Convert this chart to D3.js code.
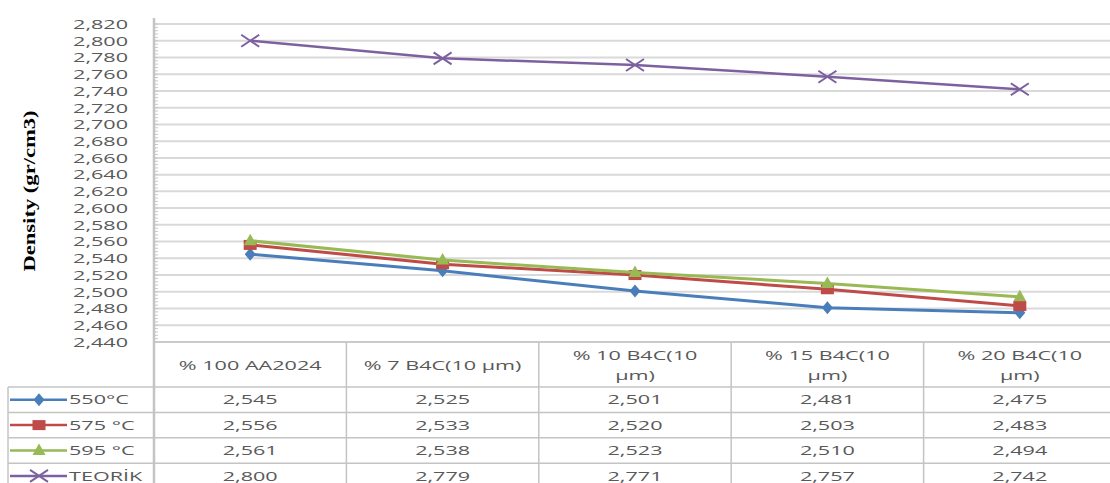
<!DOCTYPE html>
<html>
<head>
<meta charset="utf-8">
<script src="https://cdn.jsdelivr.net/npm/d3@7"></script>
<style>
  body { margin: 0; background: #fff; }
  svg { display: block; }
</style>
</head>
<body>
<svg id="chart" width="1110" height="483"></svg>
<script>
// ---- data ----
const categories = ["% 100 AA2024", "% 7 B4C(10 µm)", "% 10 B4C(10 µm)", "% 15 B4C(10 µm)", "% 20 B4C(10 µm)"];
const seriesNames = ["550°C", "575 °C", "595 °C", "TEORİK"];
const s550 = [2.545, 2.525, 2.501, 2.481, 2.475];
const s575 = [2.556, 2.533, 2.520, 2.503, 2.483];
const s595 = [2.561, 2.538, 2.523, 2.510, 2.494];
const teorik = [2.800, 2.779, 2.771, 2.757, 2.742];
const yTickValues = [2.44, 2.46, 2.48, 2.50, 2.52, 2.54, 2.56, 2.58, 2.60, 2.62, 2.64,
                     2.66, 2.68, 2.70, 2.72, 2.74, 2.76, 2.78, 2.80, 2.82];
const yTitle = "Density (gr/cm3)";

// ---- styling ----
const SX = 1.6;           // horizontal text stretch
const FONT = "'Open Sans', 'DejaVu Sans', sans-serif";
const TXT = "#595959";
const GRID = "#d9d9d9";
const BORDER = "#c4c4c4";
const colors = ["#4a7ebb", "#be4b48", "#98b954", "#7d60a0"];
const markerKinds = ["diamond", "square", "triangle", "cross"];

const svg = d3.select("#chart");
const plotLeft = 154, plotRight = 1116, plotTop = 24, plotBottom = 342;
const headerBottom = 387, rowH = 25.4, tableLeft = 8, tableRight = 1110;

const x = d3.scaleBand().domain(categories).range([plotLeft, plotRight]);
const y = d3.scaleLinear().domain([2.44, 2.82]).range([plotBottom, plotTop]);
const locale = d3.formatLocale({ decimal: ",", thousands: ".", grouping: [3], currency: ["", ""] });
const fmt = locale.format(".3f");

const series = [s550, s575, s595, teorik].map((vals, i) => ({
  name: seriesNames[i], values: vals, color: colors[i], kind: markerKinds[i]
}));

// stretched text helper
function label(g, px, py, str, opts = {}) {
  const t = g.append("g").attr("transform", `translate(${px},${py})`)
    .append("text")
    .attr("transform", `scale(${opts.sx || SX},1)`)
    .attr("text-anchor", opts.anchor || "middle")
    .attr("dy", "0.35em")
    .attr("font-family", opts.family || FONT)
    .attr("font-size", opts.size || 13.5)
    .attr("font-weight", opts.weight || "normal")
    .attr("fill", opts.fill || TXT)
    .text(str);
  return t;
}

// ---- gridlines ----
svg.append("g").selectAll("line").data(yTickValues).join("line")
  .attr("x1", plotLeft).attr("x2", tableRight)
  .attr("y1", d => y(d)).attr("y2", d => y(d))
  .attr("stroke", GRID).attr("stroke-width", 2);

// ---- y axis ----
const yAxis = svg.append("g").attr("transform", `translate(${plotLeft},0)`)
  .call(d3.axisLeft(y).tickValues(yTickValues).tickSize(0).tickPadding(26).tickFormat(fmt));
yAxis.select(".domain").remove();
yAxis.selectAll("text")
  .attr("x", -26 / SX)
  .attr("transform", `scale(${SX},1)`)
  .attr("font-family", FONT).attr("font-size", 13.5).attr("fill", TXT);

const minor = d3.range(0, 96).map(i => 2.44 + i * 0.004);
svg.append("g").selectAll("line").data(minor).join("line")
  .attr("x1", plotLeft).attr("x2", plotLeft + 4)
  .attr("y1", d => y(d)).attr("y2", d => y(d))
  .attr("stroke", "#c8c8c8").attr("stroke-width", 1);

svg.append("line")
  .attr("x1", plotLeft).attr("x2", plotLeft).attr("y1", 18).attr("y2", 483)
  .attr("stroke", BORDER).attr("stroke-width", 2.5);

// axis title
svg.append("g").attr("transform", `translate(29,191) rotate(-90)`)
  .append("text")
  .attr("transform", "scale(1.37,1)")
  .attr("text-anchor", "middle").attr("dy", "0.35em")
  .attr("font-family", "'Liberation Serif', 'Times New Roman', serif")
  .attr("font-weight", "bold").attr("font-size", 16.5).attr("fill", "#000")
  .text(yTitle);

// ---- data table ----
const rowTops = seriesNames.map((_, i) => headerBottom + i * rowH);
const tbl = svg.append("g");
tbl.append("line").attr("x1", plotLeft).attr("x2", tableRight)
  .attr("y1", plotBottom).attr("y2", plotBottom).attr("stroke", BORDER).attr("stroke-width", 1.5);
tbl.selectAll("line.h").data(rowTops.concat([headerBottom + seriesNames.length * rowH])).join("line")
  .attr("class", "h")
  .attr("x1", tableLeft).attr("x2", tableRight)
  .attr("y1", d => d).attr("y2", d => d)
  .attr("stroke", BORDER).attr("stroke-width", 1.5);
tbl.append("line").attr("x1", tableLeft).attr("x2", tableLeft)
  .attr("y1", headerBottom).attr("y2", 483).attr("stroke", BORDER).attr("stroke-width", 1.5);
tbl.selectAll("line.v").data(categories.slice(0, -1)).join("line")
  .attr("class", "v")
  .attr("x1", d => x(d) + x.bandwidth()).attr("x2", d => x(d) + x.bandwidth())
  .attr("y1", plotBottom).attr("y2", 483)
  .attr("stroke", BORDER).attr("stroke-width", 1.5);

// header labels, wrapped when wider than the column
categories.forEach(c => {
  const cx = x(c) + x.bandwidth() / 2;
  const probe = label(tbl, cx, 0, c);
  const w = probe.node().getComputedTextLength() * SX;
  probe.node().parentNode.remove();
  if (w > x.bandwidth() * 0.85) {
    const cut = c.lastIndexOf(" ");
    label(tbl, cx, 355, c.slice(0, cut));
    label(tbl, cx, 375, c.slice(cut + 1));
  } else {
    label(tbl, cx, 365, c);
  }
});

// markers
function marker(g, kind, color, px, py) {
  const m = g.append("g").attr("transform", `translate(${px},${py})`);
  if (kind === "diamond") {
    m.append("path").attr("d", "M0,-6.5L5.5,0L0,6.5L-5.5,0Z").attr("fill", color);
  } else if (kind === "square") {
    m.append("rect").attr("x", -6.5).attr("y", -5).attr("width", 13).attr("height", 10).attr("fill", color);
  } else if (kind === "triangle") {
    m.append("path").attr("d", "M0,-7L6.5,4.5L-6.5,4.5Z").attr("fill", color);
  } else {
    m.append("path").attr("d", "M-9,-6L9,6M-9,6L9,-6")
      .attr("stroke", color).attr("stroke-width", 2).attr("fill", "none");
  }
}

series.forEach((s, i) => {
  const cy = rowTops[i] + rowH / 2;
  tbl.append("line").attr("x1", 10).attr("x2", 67).attr("y1", cy).attr("y2", cy)
    .attr("stroke", s.color).attr("stroke-width", 2.5);
  marker(tbl, s.kind, s.color, 39, cy);
  label(tbl, 69, cy, s.name, { anchor: "start" });
  s.values.forEach((v, j) => {
    label(tbl, x(categories[j]) + x.bandwidth() / 2, cy, fmt(v));
  });
});

// ---- lines and markers ----
const line = d3.line()
  .x((d, j) => x(categories[j]) + x.bandwidth() / 2)
  .y(d => y(d));

const plot = svg.append("g");
series.forEach(s => {
  plot.append("path").datum(s.values)
    .attr("d", line).attr("fill", "none")
    .attr("stroke", s.color).attr("stroke-width", s.kind === "cross" ? 2.5 : 3)
    .attr("stroke-linejoin", "round");
  s.values.forEach((v, j) => marker(plot, s.kind, s.color, x(categories[j]) + x.bandwidth() / 2, y(v)));
});
</script>
</body>
</html>
